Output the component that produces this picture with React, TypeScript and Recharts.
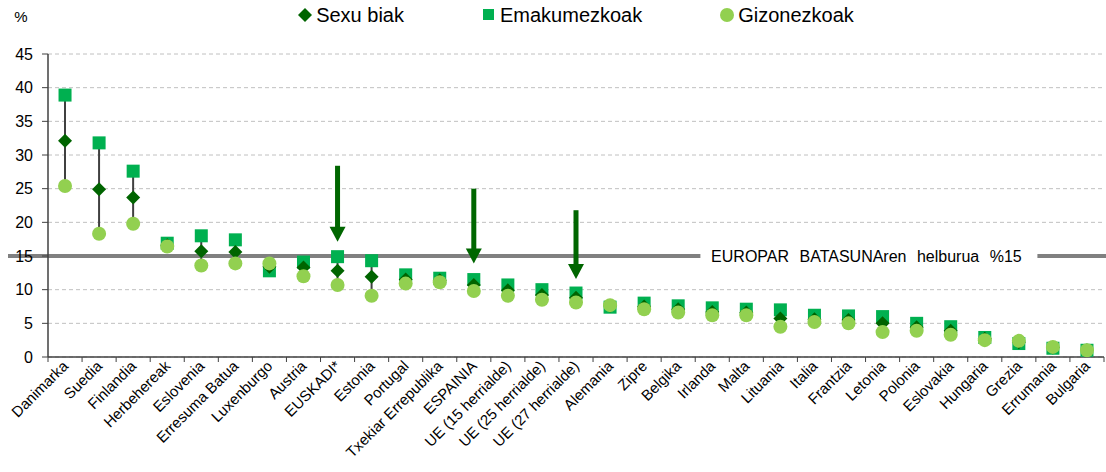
import {
    Bar,
    CartesianGrid,
    ComposedChart,
    Legend,
    Line,
    ReferenceLine,
    XAxis,
    YAxis,
} from "recharts"

const countries = [
    "Danimarka", "Suedia", "Finlandia", "Herbehereak", "Eslovenia",
    "Erresuma Batua", "Luxenburgo", "Austria", "EUSKADI*", "Estonia",
    "Portugal", "Txekiar Errepublika", "ESPAINIA", "UE (15 herrialde)",
    "UE (25 herrialde)", "UE (27 herrialde)", "Alemania", "Zipre", "Belgika",
    "Irlanda", "Malta", "Lituania", "Italia", "Frantzia", "Letonia", "Polonia",
    "Eslovakia", "Hungaria", "Grezia", "Errumania", "Bulgaria",
]

// Sexu biak (both sexes)
const sexuBiak = [
    32.1, 24.9, 23.7, 16.6, 15.7, 15.6, 13.4, 13.3, 12.8, 11.9, 11.5, 11.4,
    10.7, 9.9, 9.2, 8.8, 7.6, 7.5, 7.1, 6.7, 6.6, 5.7, 5.6, 5.5, 5.0, 4.4, 3.9,
    2.7, 2.2, 1.4, 1.0,
]
const emakumezkoak = [
    38.9, 31.8, 27.6, 16.9, 18.0, 17.4, 12.8, 14.1, 14.9, 14.3, 12.2, 11.7,
    11.5, 10.7, 10.0, 9.5, 7.4, 8.0, 7.6, 7.3, 7.1, 7.0, 6.2, 6.1, 6.0, 5.0, 4.5,
    2.9, 2.0, 1.3, 1.0,
]
const gizonezkoak = [
    25.4, 18.3, 19.8, 16.4, 13.6, 13.9, 13.9, 12.0, 10.7, 9.1, 10.9, 11.1, 9.8,
    9.1, 8.5, 8.1, 7.7, 7.1, 6.6, 6.2, 6.2, 4.5, 5.2, 5.0, 3.7, 3.9, 3.3, 2.5,
    2.4, 1.5, 1.0,
]

const yTicks = [0, 5, 10, 15, 20, 25, 30, 35, 40, 45]
const goal = 15
const goalLabel = "EUROPAR BATASUNAren helburua %15"

// annotation arrows: from value down to value
const arrows = [
    { name: "EUSKADI*", from: 28.4, to: 17.1 },
    { name: "ESPAINIA", from: 25.0, to: 13.9 },
    { name: "UE (27 herrialde)", from: 21.8, to: 11.6 },
]

const series = [
    { key: "sexu", name: "Sexu biak", color: "#006400", shape: "diamond" },
    { key: "emak", name: "Emakumezkoak", color: "#00b050", shape: "square" },
    { key: "giz", name: "Gizonezkoak", color: "#92d050", shape: "circle" },
]

const data = countries.map((name, i) => ({
    name,
    sexu: sexuBiak[i],
    emak: emakumezkoak[i],
    giz: gizonezkoak[i],
    span: [
        Math.min(emakumezkoak[i], gizonezkoak[i]),
        Math.max(emakumezkoak[i], gizonezkoak[i]),
    ],
}))

const FONT = "'Liberation Sans', Arial, sans-serif"

function Marker({ shape, color, cx, cy }: any) {
    if (cx == null || cy == null) return null
    if (shape === "square")
        return <rect x={cx - 6.5} y={cy - 6.5} width={13} height={13} fill={color} />
    if (shape === "diamond")
        return (
            <polygon
                points={`${cx},${cy - 7} ${cx + 7},${cy} ${cx},${cy + 7} ${cx - 7},${cy}`}
                fill={color}
            />
        )
    return <circle cx={cx} cy={cy} r={7} fill={color} />
}

function LegendIcon({ shape, color }: any) {
    return (
        <svg width={14} height={14} style={{ marginRight: 4 }}>
            {shape === "square" && <rect x={1} y={1} width={11} height={11} fill={color} />}
            {shape === "diamond" && <polygon points="7,0 14,7 7,14 0,7" fill={color} />}
            {shape === "circle" && <circle cx={7} cy={7} r={7} fill={color} />}
        </svg>
    )
}

function renderLegend() {
    return (
        <div
            style={{
                width: 1106,
                height: 30,
                display: "flex",
                justifyContent: "center",
                alignItems: "center",
                paddingLeft: 46,
                boxSizing: "border-box",
                fontFamily: FONT,
                fontSize: 20,
            }}
        >
            {series.map((s, i) => (
                <div
                    key={s.key}
                    style={{ display: "flex", alignItems: "center", marginLeft: i ? 78 : 0 }}
                >
                    <LegendIcon shape={s.shape} color={s.color} />
                    <span>{s.name}</span>
                </div>
            ))}
        </div>
    )
}

function CountryTick(props: any) {
    const { x, y, payload, index } = props
    const half = payload.offset ?? 17
    const last = index === countries.length - 1
    return (
        <g>
            <line x1={x - half} x2={x - half} y1={y} y2={y + 5} stroke="#404040" />
            {last && <line x1={x + half} x2={x + half} y1={y} y2={y + 5} stroke="#404040" />}
            <text
                x={x + 4}
                y={y + 10}
                transform={`rotate(-45, ${x + 4}, ${y + 10})`}
                textAnchor="end"
                fontSize={15}
                fontFamily={FONT}
                fill="#000"
            >
                {payload.value}
            </text>
        </g>
    )
}

function GoalLine(props: any) {
    const { x1, x2, y1 } = props
    const w = x2 - x1
    const cx = x1 + w * 0.775
    return (
        <g>
            <line x1={x1 - 40} x2={x2 + 2} y1={y1} y2={y1} stroke="#808080" strokeWidth={4} />
            <rect x={cx - 166} y={y1 - 10} width={337} height={20} fill="#fff" />
            <text
                x={cx}
                y={y1}
                dy="0.35em"
                textAnchor="middle"
                fontSize={16}
                fontFamily={FONT}
                wordSpacing={6}
                fill="#000"
            >
                {goalLabel}
            </text>
        </g>
    )
}

function Arrow(props: any) {
    const { x1, y1, y2 } = props
    return (
        <g fill="#006600">
            <rect x={x1 - 2.5} y={y1} width={5} height={y2 - y1 - 14} />
            <polygon points={`${x1 - 8},${y2 - 15} ${x1 + 8},${y2 - 15} ${x1},${y2}`} />
        </g>
    )
}

export default function App() {
    return (
        <div style={{ position: "absolute", left: 0, top: 0, background: "#fff" }}>
            <ComposedChart
                width={1106}
                height={472}
                data={data}
                margin={{ top: 24, right: 2, bottom: 0, left: 0 }}
            >
                <CartesianGrid vertical={false} stroke="#c0c0c0" strokeDasharray="4 3" />
                <XAxis
                    dataKey="name"
                    interval={0}
                    height={115}
                    tickLine={false}
                    tickSize={0}
                    tickMargin={0}
                    axisLine={{ stroke: "#404040", strokeWidth: 1.5 }}
                    tick={<CountryTick />}
                />
                <YAxis
                    width={48}
                    domain={[0, 45]}
                    ticks={yTicks}
                    interval={0}
                    tickSize={6}
                    tickMargin={9}
                    axisLine={{ stroke: "#404040", strokeWidth: 1.5 }}
                    tickLine={{ stroke: "#404040" }}
                    tick={{ fontSize: 16, fontFamily: FONT, fill: "#000" }}
                    label={{
                        content: ({ viewBox }: any) => (
                            <text
                                x={viewBox.x + 21}
                                y={viewBox.y - 37}
                                dy="0.35em"
                                textAnchor="middle"
                                fontSize={15}
                                fontFamily={FONT}
                            >
                                %
                            </text>
                        ),
                    }}
                />
                <Legend verticalAlign="top" content={renderLegend} wrapperStyle={{ top: 0, left: 0 }} />
                <Bar dataKey="span" barSize={2} fill="#404040" isAnimationActive={false} />
                <ReferenceLine y={goal} shape={<GoalLine />} />
                {[series[1], series[0], series[2]].map((s) => (
                    <Line
                        key={s.key}
                        dataKey={s.key}
                        name={s.name}
                        stroke="none"
                        isAnimationActive={false}
                        activeDot={false}
                        dot={(p: any) => (
                            <Marker key={`${s.key}-${p.index}`} shape={s.shape} color={s.color} cx={p.cx} cy={p.cy} />
                        )}
                    />
                ))}
                {arrows.map((a) => (
                    <ReferenceLine
                        key={a.name}
                        segment={[
                            { x: a.name, y: a.from },
                            { x: a.name, y: a.to },
                        ]}
                        shape={<Arrow />}
                    />
                ))}
            </ComposedChart>
        </div>
    )
}
